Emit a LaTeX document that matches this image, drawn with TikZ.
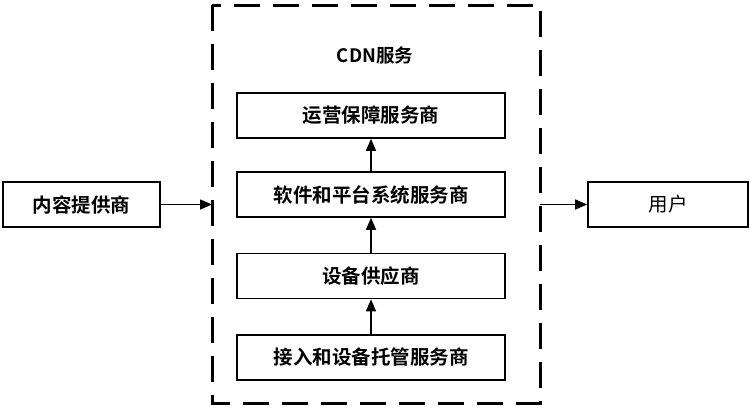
\documentclass[tikz,border=0pt]{standalone}
\usepackage{fontspec}
\newfontfamily\cjk{Noto Sans CJK SC}[BoldFont={Noto Sans CJK SC Bold}]
\usetikzlibrary{arrows.meta}
\begin{document}
\begin{tikzpicture}[x=1pt,y=-1pt,
  box/.style={draw, line width=1.6pt, minimum height=45pt, inner sep=0pt, font=\cjk\fontsize{19.5}{22}\selectfont\bfseries},
  arr/.style={line width=1.3pt, -{Triangle[length=12pt,width=10pt]}}]
\useasboundingbox (0,0) rectangle (750,408);
\draw[line width=3pt, dash pattern=on 26pt off 13pt] (212,5) rectangle (540,403);
\node[font=\cjk\fontsize{18.5}{22}\selectfont\bfseries] (title) at (375,55) {CDN服务};
\node[box, minimum width=268pt] (b1) at (371,115.5) {运营保障服务商};
\node[box, minimum width=268pt] (b2) at (371,194.5) {软件和平台系统服务商};
\node[box, minimum width=268pt] (b3) at (371,276) {设备供应商};
\node[box, minimum width=268pt] (b4) at (371,357.5) {接入和设备托管服务商};
\node[box, minimum width=157pt] (cp) at (81.5,204.5) {内容提供商};
\node[box, minimum width=160pt, font=\cjk\fontsize{19.5}{22}\selectfont] (user) at (668,204.5) {用户};
\coordinate (inL) at (212,204.5);
\coordinate (outR) at (540,204.5);
\draw[arr] (cp.east) -- (inL);
\draw[arr] (outR) -- (user.west);
\draw[arr] (b4.north) -- (b3.south);
\draw[arr] (b3.north) -- (b2.south);
\draw[arr] (b2.north) -- (b1.south);
\end{tikzpicture}
\end{document}
